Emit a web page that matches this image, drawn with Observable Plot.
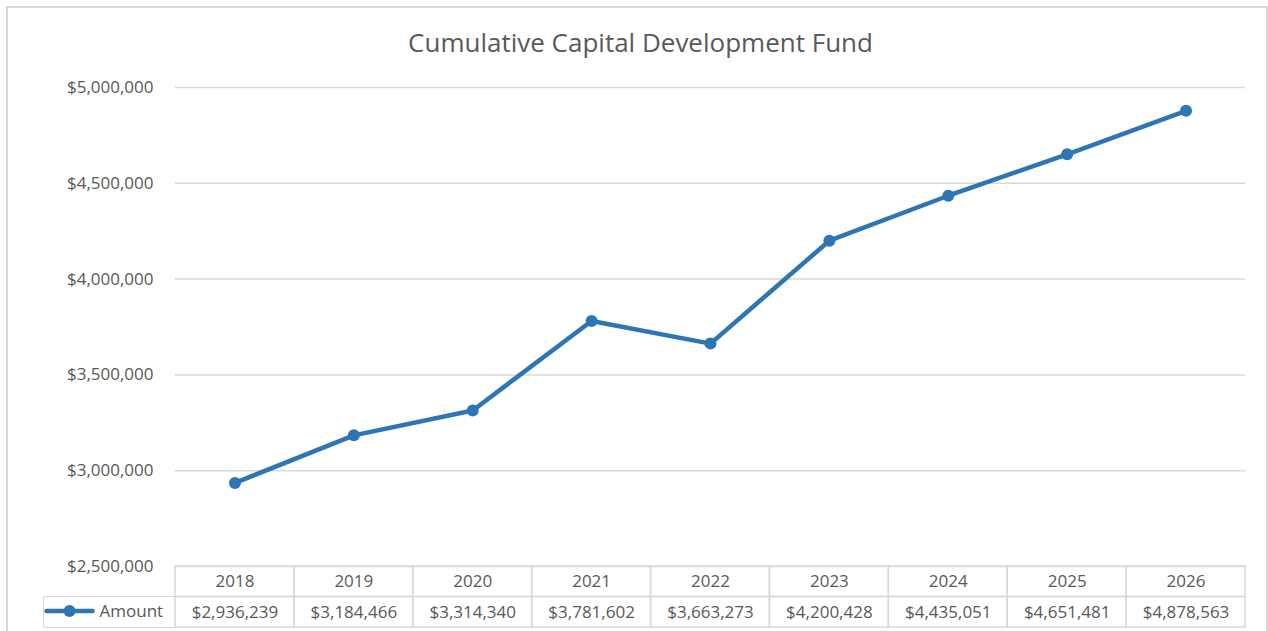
<!DOCTYPE html>
<html>
<head>
<meta charset="utf-8">
<script src="https://cdn.jsdelivr.net/npm/d3@7"></script>
<script src="https://cdn.jsdelivr.net/npm/@observablehq/plot@0.6"></script>
<style>
  body { margin: 0; background: #fff; font-family: "Open Sans", sans-serif; }
  #wrap { position: relative; width: 1268px; height: 631px; overflow: hidden; background: #fff; }
  #border { position: absolute; left: 6px; top: 6px; width: 1262px; height: 700px; border: 2px solid #d9d9d9; box-sizing: border-box; }
  #title { position: absolute; left: 0; width: 1281px; top: 24px; line-height: 36px; text-align: center; font-size: 26px; color: #595959; white-space: pre; }
  .layer { position: absolute; left: 0; }
  #legend { position: absolute; left: 43px; top: 595.75px; width: 132px; height: 32px; box-sizing: border-box;
            border-left: 1.5px solid #d9d9d9; border-top: 1.5px solid #d9d9d9; border-bottom: 1.5px solid #d9d9d9; }
  #legend svg { position: absolute; left: 0; top: 0; overflow: visible; }
</style>
</head>
<body>
<div id="wrap">
  <div id="border"></div>
  <div id="title">Cumulative Capital Development Fund</div>
  <div id="chart" class="layer" style="top:0"></div>
  <div id="table" class="layer" style="top:565px"></div>
  <div id="legend"></div>
</div>
<script>
const years = ["2018", "2019", "2020", "2021", "2022", "2023", "2024", "2025", "2026"];
const amounts = [2936239, 3184466, 3314340, 3781602, 3663273, 4200428, 4435051, 4651481, 4878563];
const yTicks = [2500000, 3000000, 3500000, 4000000, 4500000, 5000000];
const seriesName = "Amount";
const rows = ["year", "amount"];

const fmt = d3.format("$,");
const data = years.map((year, i) => ({year, amount: amounts[i]}));
const cells = years.flatMap((year, i) => [
  {year, row: "year", text: year},
  {year, row: "amount", text: fmt(amounts[i])}
]);

const blue = "#2e75b6";
const grey = "#595959";
const lineGrey = "#d9d9d9";

const chart = Plot.plot({
  width: 1268,
  height: 631,
  marginTop: 87,
  marginBottom: 65,
  marginLeft: 175,
  marginRight: 23,
  style: {background: "transparent", fontFamily: "Open Sans", fontSize: "17px", color: grey, overflow: "visible"},
  x: {type: "point", domain: years, padding: 0.5, round: false, axis: null},
  y: {domain: [2500000, 5000000], axis: null},
  marks: [
    Plot.gridY(yTicks, {stroke: lineGrey, strokeOpacity: 1, strokeWidth: 1.5}),
    Plot.axisY(yTicks, {tickSize: 0, tickPadding: 22, tickFormat: fmt, fill: grey, fontSize: 17, label: null}),
    Plot.lineY(data, {x: "year", y: "amount", stroke: blue, strokeWidth: 4.5, strokeLinejoin: "round", strokeLinecap: "round"}),
    Plot.dot(data, {x: "year", y: "amount", r: 6, fill: blue, stroke: "none"})
  ]
});
document.getElementById("chart").append(chart);

const table = Plot.plot({
  width: 1268,
  height: 63,
  marginTop: 1,
  marginBottom: 1,
  marginLeft: 175,
  marginRight: 23,
  style: {background: "transparent", fontFamily: "Open Sans", fontSize: "17px", color: grey, overflow: "visible"},
  x: {type: "band", domain: years, padding: 0, round: false, axis: null},
  y: {type: "band", domain: rows, padding: 0, round: false, axis: null},
  marks: [
    Plot.cell(cells, {x: "year", y: "row", fill: "none", stroke: lineGrey, strokeWidth: 1.5, inset: 0}),
    Plot.text(cells, {x: "year", y: "row", text: "text", fill: grey, fontSize: 17})
  ]
});
document.getElementById("table").append(table);

// legend swatch
const ns = "http://www.w3.org/2000/svg";
const lg = document.createElementNS(ns, "svg");
lg.setAttribute("width", 130);
lg.setAttribute("height", 30);
lg.innerHTML = `
  <line x1="2.5" x2="48.5" y1="14" y2="14" stroke="${blue}" stroke-width="4.5" stroke-linecap="round"></line>
  <circle cx="25.5" cy="14" r="6" fill="${blue}"></circle>
  <text x="55.5" y="14" dy="0.35em" fill="${grey}" font-family="Open Sans" font-size="17">${seriesName}</text>`;
document.getElementById("legend").append(lg);
</script>
</body>
</html>
